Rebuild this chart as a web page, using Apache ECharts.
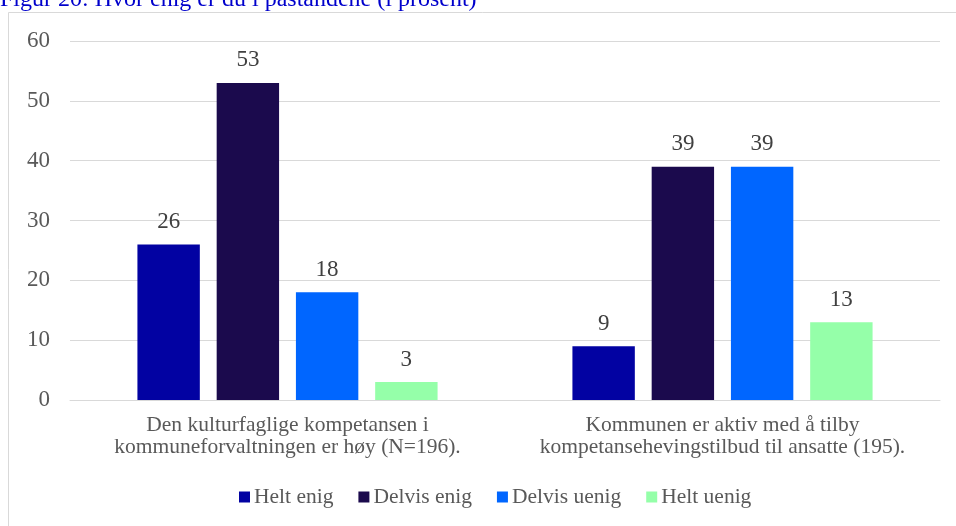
<!DOCTYPE html>
<html>
<head>
<meta charset="utf-8">
<script src="https://cdn.jsdelivr.net/npm/echarts@6/dist/echarts.min.js"></script>
<style>
  html, body { margin: 0; padding: 0; background: #fff; }
  #chart { width: 956px; height: 526px; }
</style>
</head>
<body>
<div id="chart"></div>
<script>
  // data
  var categories = [
    'Den kulturfaglige kompetansen i\nkommuneforvaltningen er høy (N=196).',
    'Kommunen er aktiv med å tilby\nkompetansehevingstilbud til ansatte (195).'
  ];
  var seriesNames = ['Helt enig', 'Delvis enig', 'Delvis uenig', 'Helt uenig'];
  var heltEnig = [26, 9];
  var delvisEnig = [53, 39];
  var delvisUenig = [18, 39];
  var heltUenig = [3, 13];
  var yTicks = [0, 10, 20, 30, 40, 50, 60];

  var colors = ['#0202A2', '#1B0A4D', '#0066FF', '#95FFA9'];
  var values = [heltEnig, delvisEnig, delvisUenig, heltUenig];
  var font = '"Liberation Serif", "Times New Roman", serif';

  var series = [];
  for (var i = 0; i < seriesNames.length; i++) {
    series.push({
      name: seriesNames[i],
      type: 'bar',
      data: values[i],
      barGap: '27%',
      barCategoryGap: '31%',
      itemStyle: { color: colors[i] },
      label: {
        show: true,
        position: 'top',
        distance: 11,
        color: '#404040',
        fontFamily: font,
        fontSize: 23
      }
    });
  }

  var chart = echarts.init(document.getElementById('chart'));
  chart.setOption({
    animation: false,
    backgroundColor: '#fff',
    textStyle: { fontFamily: font },
    graphic: [
      {
        type: 'rect',
        shape: { x: 8.5, y: 12.5, width: 960, height: 540 },
        style: { fill: 'none', stroke: '#d9d9d9', lineWidth: 1 },
        silent: true
      },
      {
        type: 'text',
        left: 0,
        top: -12,
        style: {
          text: 'Figur 20: Hvor enig er du i påstandene (i prosent)',
          fill: '#0000CC',
          font: '24px ' + font
        }
      }
    ],
    grid: { left: 70, right: 16, top: 41, bottom: 126 },
    legend: {
      top: 486,
      left: 239,
      padding: 0,
      icon: 'rect',
      itemWidth: 11,
      itemHeight: 11,
      itemGap: 25,
      textStyle: { color: '#595959', fontSize: 21.5, fontFamily: font, padding: [0, 0, 0, -1] },
      data: seriesNames
    },
    xAxis: {
      type: 'category',
      data: categories,
      axisTick: { show: false },
      axisLine: { lineStyle: { color: '#d9d9d9', width: 1 } },
      axisLabel: {
        interval: 0,
        margin: 14,
        color: '#595959',
        fontSize: 21.5,
        lineHeight: 22,
        fontFamily: font
      }
    },
    yAxis: {
      type: 'value',
      min: yTicks[0],
      max: yTicks[yTicks.length - 1],
      interval: 10,
      axisLine: { show: false },
      axisTick: { show: false },
      axisLabel: { color: '#595959', fontSize: 23, margin: 20, fontFamily: font },
      splitLine: { lineStyle: { color: '#d9d9d9', width: 1 } }
    },
    series: series
  });
</script>
</body>
</html>
